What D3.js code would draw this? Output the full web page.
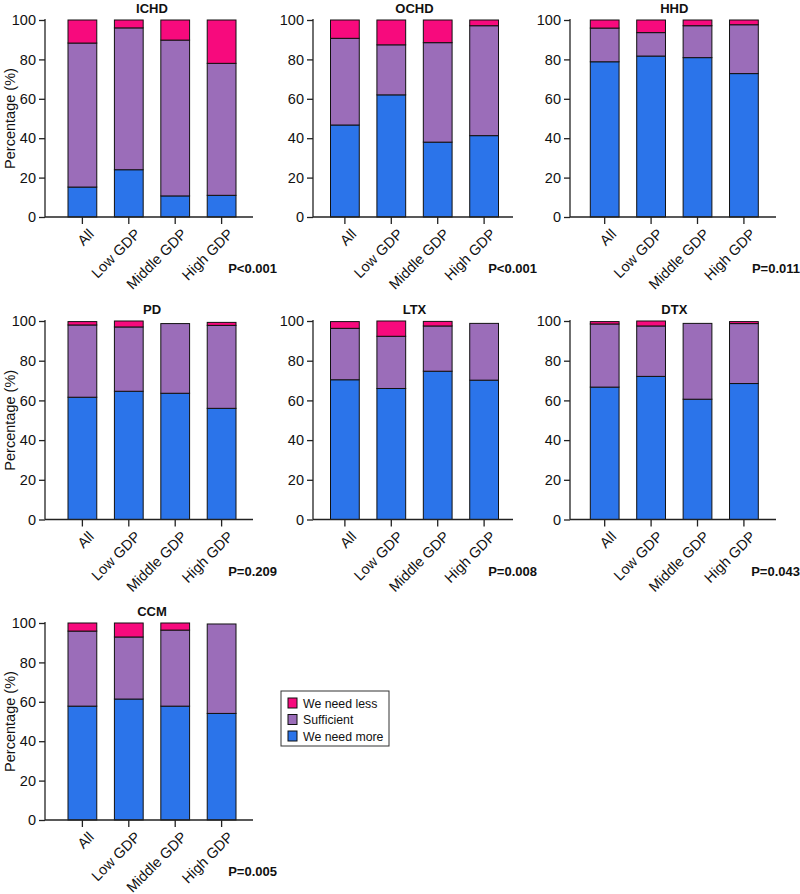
<!DOCTYPE html>
<html>
<head>
<meta charset="UTF-8">
<title>Percentage by GDP group</title>
<script src="https://d3js.org/d3.v7.min.js"></script>
<style>
  body {
    margin: 0;
    padding: 0;
    background: #fff;
  }
  svg text { font-family: "Liberation Sans", Arial, sans-serif; }
  .tick text { font-size: 14.5px; fill: #111; }
  .tick line { stroke: #222; stroke-width: 1.3px; }
  .axis-line { stroke: #222; stroke-width: 1.3px; }
  .title, .pval { font-weight: bold; font-size: 13px; fill: #111; }
</style>
</head>
<body>
<div id="chart"></div>
<script>
// Data
const panels = ["ICHD", "OCHD", "HHD", "PD", "LTX", "DTX", "CCM"];
const groups = ["All", "Low GDP", "Middle GDP", "High GDP"];
const pValues = ["P<0.001", "P<0.001", "P=0.011", "P=0.209", "P=0.008", "P=0.043", "P=0.005"];
const seriesNames = ["We need less", "Sufficient", "We need more"];

// one row per panel, one value per group
const needMore = [
  [15.2, 24.0, 10.7, 11.0],
  [46.7, 62.0, 38.0, 41.3],
  [78.8, 81.7, 80.9, 72.8],
  [61.6, 64.6, 63.6, 56.0],
  [70.4, 66.0, 74.7, 70.2],
  [66.7, 72.1, 60.6, 68.5],
  [57.8, 61.4, 57.8, 54.1]
];
const sufficient = [
  [73.1, 72.0, 79.1, 67.0],
  [44.0, 25.4, 50.5, 55.8],
  [17.1, 11.9, 16.2, 24.8],
  [36.4, 32.4, 35.1, 41.8],
  [25.9, 26.3, 22.8, 28.6],
  [31.8, 25.4, 38.2, 30.2],
  [38.1, 31.5, 38.6, 45.4]
];
const needLess = [
  [11.7, 4.0, 10.2, 22.0],
  [9.3, 12.6, 11.5, 2.9],
  [4.1, 6.4, 2.9, 2.4],
  [1.7, 3.0, 0, 1.5],
  [3.4, 7.7, 2.3, 0],
  [1.2, 2.5, 0, 1.0],
  [4.1, 7.1, 3.6, 0]
];
const yTicks = [0, 20, 40, 60, 80, 100];

const colors = { "We need less": "#f70a7d", "Sufficient": "#9b6db9", "We need more": "#2b74ea" };

// Layout
const width = 800, height = 894;
const colAxisX = [45, 313, 570];
const colBarStart = [68, 330.5, 590.3];
const colAxisEnd = [253, 513, 776];
const rowTop = [20, 321, 623];
const rowBottom = [217, 519.5, 820];
const barSpan = 168;

const svg = d3.select("#chart").append("svg")
  .attr("width", width)
  .attr("height", height);

panels.forEach((name, i) => {
  const col = i % 3, row = Math.floor(i / 3);
  const g = svg.append("g");

  const x = d3.scaleBand()
    .domain(groups)
    .range([colBarStart[col], colBarStart[col] + barSpan])
    .paddingInner(0.38)
    .paddingOuter(0);

  const y = d3.scaleLinear()
    .domain([0, 100])
    .range([rowBottom[row], rowTop[row]]);

  const rows = groups.map((grp, j) => ({
    group: grp,
    "We need more": needMore[i][j],
    "Sufficient": sufficient[i][j],
    "We need less": needLess[i][j]
  }));
  const stacked = d3.stack().keys(["We need more", "Sufficient", "We need less"])(rows);

  g.selectAll("g.layer")
    .data(stacked)
    .enter()
    .append("g")
    .attr("fill", d => colors[d.key])
    .selectAll("rect")
    .data(d => d.filter(s => s[1] - s[0] > 0))
    .enter()
    .append("rect")
    .attr("x", d => x(d.data.group))
    .attr("width", x.bandwidth())
    .attr("y", d => y(d[1]))
    .attr("height", d => y(d[0]) - y(d[1]))
    .attr("stroke", "#111")
    .attr("stroke-width", 1);

  // y axis
  const yAxis = g.append("g")
    .attr("transform", `translate(${colAxisX[col]},0)`)
    .call(d3.axisLeft(y).tickValues(yTicks).tickSize(6).tickPadding(3));
  yAxis.select(".domain").remove();
  g.append("line").attr("class", "axis-line")
    .attr("x1", colAxisX[col]).attr("x2", colAxisX[col])
    .attr("y1", rowTop[row] - 1).attr("y2", rowBottom[row]);

  // x axis, labels turned 45 degrees
  const xAxis = g.append("g")
    .attr("transform", `translate(0,${rowBottom[row]})`)
    .call(d3.axisBottom(x).tickSize(7).tickSizeOuter(0));
  xAxis.select(".domain").remove();
  xAxis.selectAll("text")
    .attr("x", 0)
    .attr("y", 0)
    .attr("dy", 0)
    .attr("text-anchor", "end")
    .attr("transform", "translate(12.5,18) rotate(-45)");
  g.append("line").attr("class", "axis-line")
    .attr("x1", colAxisX[col]).attr("x2", colAxisEnd[col])
    .attr("y1", rowBottom[row]).attr("y2", rowBottom[row]);

  // title
  g.append("text").attr("class", "title")
    .attr("x", colBarStart[col] + barSpan / 2)
    .attr("y", rowTop[row] - 7)
    .attr("text-anchor", "middle")
    .text(name);

  // p value
  g.append("text").attr("class", "pval")
    .attr("x", colAxisEnd[col] + 24)
    .attr("y", rowBottom[row] + 56)
    .attr("text-anchor", "end")
    .text(pValues[i]);

  // y label only in first column
  if (col === 0) {
    g.append("text")
      .attr("transform", `translate(15,${(rowTop[row] + rowBottom[row]) / 2}) rotate(-90)`)
      .attr("text-anchor", "middle")
      .style("font-size", "14.5px")
      .attr("fill", "#111")
      .text("Percentage (%)");
  }
});

// Legend
const legend = svg.append("g").attr("transform", "translate(281,691)");
legend.append("rect")
  .attr("width", 108).attr("height", 55)
  .attr("fill", "#fff").attr("stroke", "#333").attr("stroke-width", 1);
seriesNames.forEach((s, k) => {
  const item = legend.append("g").attr("transform", `translate(7,${12 + k * 16.5})`);
  item.append("rect")
    .attr("x", 0).attr("y", -5)
    .attr("width", 9).attr("height", 10)
    .attr("fill", colors[s]).attr("stroke", "#111").attr("stroke-width", 1);
  item.append("text")
    .attr("x", 15).attr("y", 4.5)
    .style("font-size", "12.3px")
    .attr("fill", "#111")
    .text(s);
});
</script>
</body>
</html>
